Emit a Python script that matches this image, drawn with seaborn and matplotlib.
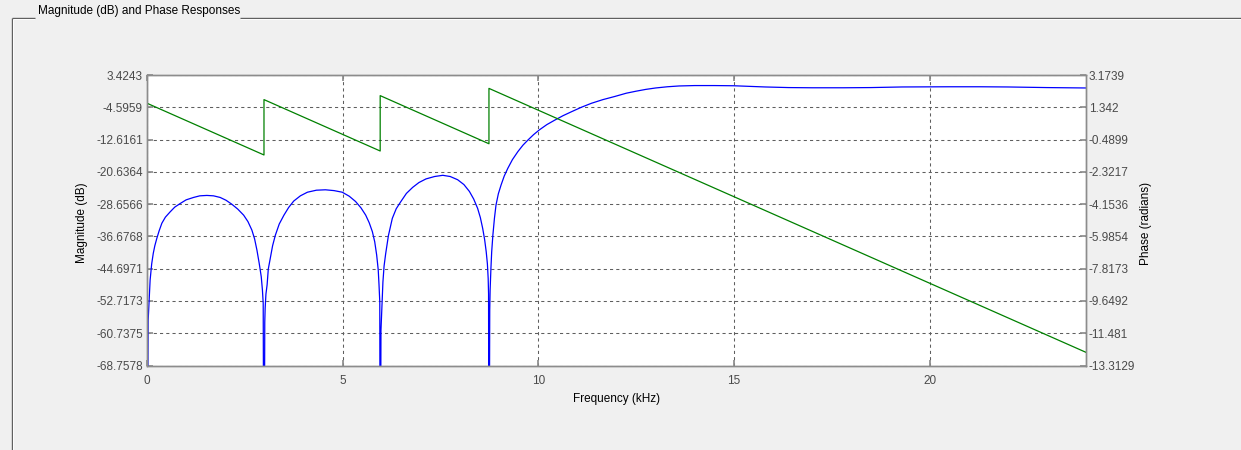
import matplotlib
matplotlib.use("Agg")
import matplotlib.pyplot as plt
from matplotlib.lines import Line2D
import pandas as pd
import seaborn as sns

# ---- axis ticks -----------------------------------------------------------
freq_ticks = [0, 5, 10, 15, 20]
freq_tick_labels = ["0", "5", "10", "15", "20"]
freq_limits = [0.0, 24.0]

mag_ticks = [3.4243, -4.5959, -12.6161, -20.6364, -28.6566,
             -36.6768, -44.6971, -52.7173, -60.7375, -68.7578]
mag_tick_labels = ["3.4243", "-4.5959", "-12.6161", "-20.6364", "-28.6566",
                   "-36.6768", "-44.6971", "-52.7173", "-60.7375", "-68.7578"]

phase_ticks = [3.1739, 1.342, -0.4899, -2.3217, -4.1536,
               -5.9854, -7.8173, -9.6492, -11.481, -13.3129]
phase_tick_labels = ["3.1739", "1.342", "-0.4899", "-2.3217", "-4.1536",
                     "-5.9854", "-7.8173", "-9.6492", "-11.481", "-13.3129"]

# ---- magnitude response (dB); nulls are far below the visible range -------
mag_freq_khz = [
    # stopband lobe 1
    0.00, 0.03, 0.08, 0.12, 0.16, 0.20, 0.25, 0.31, 0.38, 0.47, 0.59, 0.71,
    0.85, 1.00, 1.19, 1.35, 1.53, 1.70, 1.87, 2.02, 2.17, 2.32, 2.47, 2.58,
    2.68, 2.75, 2.81, 2.87, 2.92, 2.95, 2.97, 2.99,
    # stopband lobe 2
    3.01, 3.02, 3.04, 3.07, 3.10, 3.15, 3.21, 3.28, 3.38, 3.50, 3.62, 3.75,
    3.92, 4.10, 4.33, 4.56, 4.78, 4.99, 5.17, 5.33, 5.47, 5.59, 5.68, 5.76,
    5.82, 5.87, 5.91, 5.93, 5.95, 5.96,
    # stopband lobe 3
    5.98, 6.00, 6.03, 6.06, 6.10, 6.17, 6.27, 6.37, 6.49, 6.63, 6.79, 6.95,
    7.13, 7.35, 7.56, 7.75, 7.94, 8.10, 8.24, 8.35, 8.45, 8.52, 8.58, 8.63,
    8.67, 8.70, 8.72, 8.73, 8.74,
    # transition band and passband
    8.76, 8.77, 8.79, 8.81, 8.84, 8.88, 8.92, 8.98, 9.05, 9.13, 9.22, 9.34,
    9.48, 9.61, 9.74, 9.88, 10.03, 10.22, 10.42, 10.63, 10.85, 11.10, 11.36,
    11.65, 11.96, 12.25, 12.50, 12.75, 13.00, 13.30, 13.60, 14.00, 14.50,
    15.00, 15.40, 15.80, 16.40, 17.00, 17.80, 18.50, 19.30, 20.50, 21.30,
    22.00, 23.00, 24.00,
]
mag_db = [
    # stopband lobe 1
    -120.0, -57.5, -47.5, -43.5, -40.9, -39.0, -37.2, -35.3, -33.4, -31.9,
    -30.6, -29.4, -28.5, -27.6, -27.0, -26.6, -26.5, -26.6, -27.0, -27.7,
    -28.7, -29.9, -31.4, -33.0, -35.1, -37.3, -40.1, -43.5, -46.7, -50.0,
    -53.3, -120.0,
    # stopband lobe 2
    -58.0, -54.5, -51.0, -48.7, -44.8, -42.1, -39.0, -36.4, -33.6, -31.4,
    -29.5, -27.9, -26.6, -25.7, -25.2, -25.1, -25.3, -25.7, -26.7, -28.0,
    -29.6, -31.4, -33.3, -35.5, -38.0, -41.3, -45.0, -48.7, -53.0, -120.0,
    # stopband lobe 3
    -60.0, -55.0, -48.0, -44.0, -41.0, -36.5, -32.2, -29.8, -28.0, -26.0,
    -24.5, -23.3, -22.4, -21.8, -21.5, -21.8, -22.6, -23.8, -25.5, -27.4,
    -29.7, -32.0, -34.7, -37.5, -40.5, -43.5, -47.1, -51.0, -120.0,
    # transition band and passband
    -55.0, -50.0, -44.7, -40.5, -36.4, -32.2, -28.9, -26.1, -23.9, -21.7,
    -19.8, -17.6, -15.6, -14.0, -12.7, -11.4, -10.2, -8.9, -7.8, -6.7,
    -5.7, -4.6, -3.6, -2.7, -1.9, -1.1, -0.6, -0.15, 0.2, 0.5, 0.7, 0.8,
    0.8, 0.75, 0.6, 0.45, 0.3, 0.25, 0.25, 0.3, 0.45, 0.5, 0.5, 0.45, 0.3,
    0.2,
]

# ---- phase response (radians), wrapped by pi at each null -----------------
phase_freq_khz = [0.00, 2.99, 2.99, 5.96, 5.96, 8.74, 8.74, 24.00]
phase_rad = [1.571, -1.365, 1.777, -1.139, 2.003, -0.728, 2.414, -12.566]

mag_df = pd.DataFrame({"freq": mag_freq_khz, "mag": mag_db})
phase_df = pd.DataFrame({"freq": phase_freq_khz, "phase": phase_rad})

# ---- styling ---------------------------------------------------------------
sns.set_theme(style="white")
plt.rcParams["font.family"] = ["Liberation Sans", "DejaVu Sans"]
plt.rcParams["font.size"] = 8.5

BG = "#f0f0f0"
SPINE = "#8c8c8c"
GRID = "#5f5f5f"
TICKTXT = "#4a4a4a"

W, H = 1241, 450
fig = plt.figure(figsize=(W / 100, H / 100), dpi=100, facecolor=BG)

ax_l, ax_r, ax_t, ax_b = 147, 1086, 75, 365.5
ax = fig.add_axes([ax_l / W, 1 - ax_b / H, (ax_r - ax_l) / W, (ax_b - ax_t) / H])
ax.set_facecolor("white")
ax2 = ax.twinx()

sns.lineplot(data=mag_df, x="freq", y="mag", ax=ax, color="#0000ff",
             linewidth=0.9, estimator=None, sort=False, legend=False)
sns.lineplot(data=phase_df, x="freq", y="phase", ax=ax2, color="#008000",
             linewidth=0.9, estimator=None, sort=False, legend=False)

ax.set_xlim(*freq_limits)
ax.set_ylim(mag_ticks[-1], mag_ticks[0])
ax2.set_ylim(phase_ticks[-1], phase_ticks[0])

ax.set_xticks(freq_ticks, freq_tick_labels)
ax.set_yticks(mag_ticks, mag_tick_labels)
ax2.set_yticks(phase_ticks, phase_tick_labels)

grid_style = dict(color=GRID, linewidth=0.75, linestyle=(0, (3, 3)))
ax.grid(True, axis="both", **grid_style)

ax.tick_params(axis="both", direction="in", length=4, color=SPINE,
               labelcolor=TICKTXT, labelsize=8.5)
ax.tick_params(axis="x", top=True, bottom=True, pad=7)
ax.tick_params(axis="y", left=True, right=False, pad=3)
ax2.tick_params(axis="y", direction="in", length=4, color=SPINE,
                labelcolor=TICKTXT, labelsize=8.5, right=True, left=False, pad=2)

for a in (ax, ax2):
    for sp in a.spines.values():
        sp.set_color(SPINE)
        sp.set_linewidth(1.0)

ax.set_xlabel("Frequency (kHz)", fontsize=8.5, color="black")
ax.xaxis.set_label_coords(0.5, (ax_b - 399) / (ax_b - ax_t))
ax.xaxis.label.set_verticalalignment("center")

ax.set_ylabel("Magnitude (dB)", fontsize=8.5, color="black")
ax.yaxis.set_label_coords((82.5 - ax_l) / (ax_r - ax_l), 0.49)
ax.yaxis.label.set_verticalalignment("center")

ax2.set_ylabel("Phase (radians)", fontsize=8.5, color="black", rotation=90)
ax2.yaxis.set_label_coords((1146 - ax_l) / (ax_r - ax_l), 0.49)
ax2.yaxis.label.set_verticalalignment("center")
ax2.yaxis.label.set_horizontalalignment("center")

# ---- group-box frame with its caption --------------------------------------
def px_line(x0, y0, x1, y1, color, lw=1.0):
    fig.add_artist(Line2D([x0 / W, x1 / W], [1 - y0 / H, 1 - y1 / H],
                          transform=fig.transFigure, color=color,
                          linewidth=lw, solid_capstyle="butt"))

frame_y, frame_x = 17.7, 12
px_line(frame_x, frame_y, 35, frame_y, "#606060")
px_line(239.5, frame_y, W, frame_y, "#606060")
px_line(frame_x, frame_y, frame_x, H, "#606060")
px_line(frame_x + 1, frame_y + 1, 35, frame_y + 1, "white", 0.7)
px_line(239.5, frame_y + 1, W, frame_y + 1, "white", 0.7)
px_line(frame_x + 1, frame_y + 1, frame_x + 1, H, "white", 0.7)

fig.text(37.5 / W, 1 - 11 / H, "Magnitude (dB) and Phase Responses",
         fontsize=8.5, color="black", ha="left", va="center")

fig.savefig("out.png", dpi=100, facecolor=BG)
